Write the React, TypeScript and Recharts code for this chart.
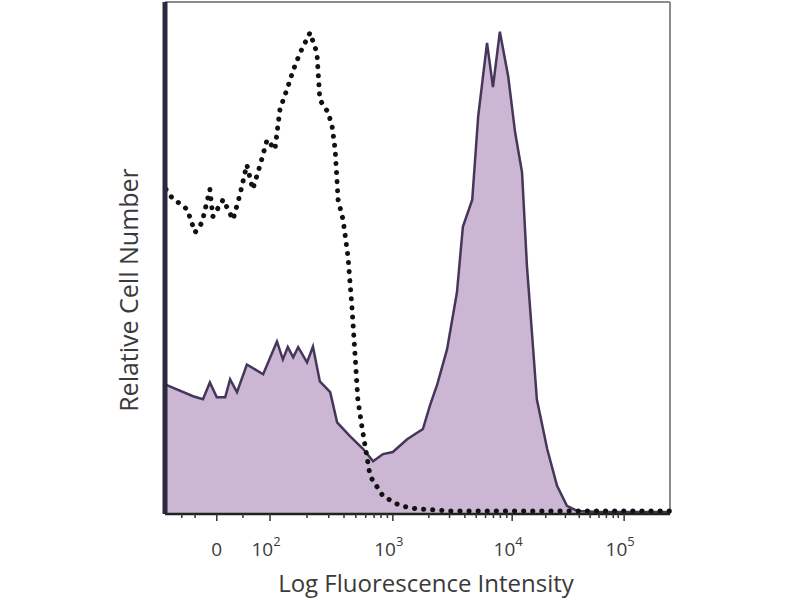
import { ComposedChart, Area, Line, XAxis, YAxis, ReferenceLine, Label } from "recharts";

// x = display channel (0-1024, biexponential scale), y = % of max count
const stainedX = [0, 57, 77, 91, 105, 122, 132, 146, 166, 199, 227, 239, 249, 260, 270, 288, 300, 314, 335, 349, 375, 402, 422, 442, 462, 491, 523, 537, 552, 572, 592, 604, 623, 635, 653, 665, 679, 696, 710, 724, 734, 744, 754, 775, 795, 815, 836, 882, 1024];
const stainedY = [25.3, 23.0, 22.4, 25.7, 22.8, 22.8, 26.3, 23.8, 29.2, 27.3, 33.7, 30.2, 32.6, 30.6, 32.6, 29.6, 32.7, 25.9, 23.8, 17.9, 15.2, 12.7, 10.3, 11.7, 12.1, 14.6, 16.6, 21.1, 25.3, 32.2, 43.3, 56.1, 61.4, 77.6, 92.0, 83.4, 94.2, 85.4, 74.5, 66.7, 48.3, 35.5, 22.4, 12.7, 5.5, 1.6, 0.6, 0.4, 0.4];

const controlX = [2, 14, 45, 61, 75, 91, 97, 118, 138, 152, 166, 178, 193, 207, 223, 233, 249, 260, 274, 294, 308, 314, 331, 339, 345, 351, 361, 371, 379, 385, 391, 400, 416, 442, 477, 511, 578, 1024];
const controlY = [63.4, 61.8, 59.5, 55.0, 56.9, 63.4, 58.1, 61.4, 57.5, 62.4, 68.2, 63.4, 68.2, 73.1, 71.2, 79.0, 83.4, 86.7, 90.1, 94.0, 90.1, 80.9, 78.4, 75.6, 71.2, 61.4, 57.5, 50.3, 40.5, 31.6, 22.4, 16.6, 7.4, 3.5, 1.6, 1.0, 0.6, 0.6];

const majorTicks = [105, 213, 462, 704, 931];
const majorLabels = ["0", "10|2", "10|3", "10|4", "10|5"];
const minorTicks = [34, 61, 158, 288, 332, 363, 387, 407, 424, 438, 451, 535, 577, 608, 631, 650, 666, 680, 693, 772, 812, 840, 862, 880, 895, 909, 919];

const stained = stainedX.map((x, i) => ({ x, y: stainedY[i] }));
const control = controlX.map((x, i) => ({ x, y: controlY[i] }));

const FONT = "'Open Sans', sans-serif";
const TEXT = "#3a3a3a";

const FlowTick = (props: any) => {
  const { x, y, payload } = props;
  const idx = majorTicks.indexOf(payload.value);
  if (idx < 0) {
    return <line x1={x} x2={x} y1={y} y2={y + 4} stroke="#333" strokeWidth={1.5} />;
  }
  const [base, sup] = majorLabels[idx].split("|");
  return (
    <g>
      <line x1={x} x2={x} y1={y} y2={y + 7} stroke="#333" strokeWidth={1.5} />
      <text x={sup ? x - 4 : x} y={y + 42} textAnchor="middle" fontFamily={FONT} fontSize={19} fill={TEXT}>
        <tspan>{base}</tspan>
        {sup && (
          <tspan dy={-10} fontSize={13}>
            {sup}
          </tspan>
        )}
      </text>
    </g>
  );
};

export default function App() {
  return (
    <div style={{ position: "absolute", left: 0, top: 0, width: 800, height: 600, background: "#fff" }}>
      <ComposedChart width={800} height={600} margin={{ top: 2, right: 130, bottom: 26, left: 95 }}>
        <XAxis
          type="number"
          dataKey="x"
          domain={[0, 1024]}
          ticks={[...majorTicks, ...minorTicks]}
          interval={0}
          tickSize={0}
          tickMargin={0}
          tickLine={false}
          tick={<FlowTick />}
          axisLine={{ stroke: "#222", strokeWidth: 2.5 }}
          height={60}
        >
          <Label
            content={() => (
              <text x={426} y={592} textAnchor="middle" fontFamily={FONT} fontSize={24} fill={TEXT}>
                Log Fluorescence Intensity
              </text>
            )}
          />
        </XAxis>
        <YAxis
          type="number"
          domain={[0, 100]}
          width={70}
          tick={false}
          tickLine={false}
          axisLine={{ stroke: "#2b2940", strokeWidth: 5 }}
        >
          <Label
            content={() => (
              <text transform="translate(138,290) rotate(-90)" textAnchor="middle" fontFamily={FONT} fontSize={25} fill={TEXT}>
                Relative Cell Number
              </text>
            )}
          />
        </YAxis>
        <ReferenceLine y={100} stroke="#8c8c8c" strokeWidth={2} />
        <ReferenceLine x={1024} stroke="#8c8c8c" strokeWidth={2} />
        <Area
          data={stained}
          dataKey="y"
          type="linear"
          stroke="#45365a"
          strokeWidth={2.5}
          fill="#cbb6d4"
          fillOpacity={1}
          isAnimationActive={false}
        />
        <Line
          data={control}
          dataKey="y"
          type="linear"
          stroke="#111"
          strokeWidth={5}
          strokeDasharray="0.1 9"
          strokeLinecap="round"
          dot={false}
          isAnimationActive={false}
        />
      </ComposedChart>
    </div>
  );
}
